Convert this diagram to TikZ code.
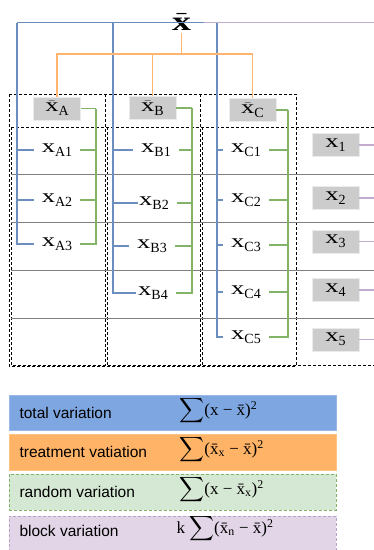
\documentclass[tikz,border=0pt]{standalone}
\usepackage{amsmath}
\usepackage{fontspec}
\setmainfont{Liberation Serif}
\setsansfont{Liberation Sans}
\usetikzlibrary{positioning}

\definecolor{blueln}{HTML}{6C8EBF}
\definecolor{orangeln}{HTML}{FFB570}
\definecolor{greenln}{HTML}{82B366}
\definecolor{purpleln}{HTML}{C3ABD0}
\definecolor{totfill}{HTML}{7EA6E0}
\definecolor{trtfill}{HTML}{FFB366}
\definecolor{rndfill}{HTML}{D5E8D4}
\definecolor{blkfill}{HTML}{E1D5E7}
\definecolor{blkdraw}{HTML}{B9A0C8}
\definecolor{meanfill}{HTML}{CCCCCC}

\newcommand{\wx}{\scalebox{1.4}[1]{x}}
\newcommand{\mx}{$\bar{\hbox{\wx}}$}
\newcommand{\lsub}[1]{\raisebox{-4pt}{\fontsize{14}{16}\selectfont #1}}

\tikzset{
	blueline/.style={draw=blueln, line width=1.5pt},
	orangeline/.style={draw=orangeln, line width=1.5pt},
	greenline/.style={draw=greenln, line width=1.5pt},
	purpleline/.style={draw=purpleln, line width=1.5pt},
	item/.style={font=\fontsize{19}{22}\selectfont, inner xsep=8pt, inner ysep=1pt},
	meanbox/.style={item, fill=meanfill, draw=black!8, minimum width=47pt, minimum height=23pt, inner sep=0pt},
	legbox/.style={minimum width=327pt, minimum height=35pt, inner sep=0pt},
	legtext/.style={font=\sffamily\fontsize{15.5}{18}\selectfont, anchor=west},
	legform/.style={font=\fontsize{17}{20}\selectfont, anchor=west},
}

\begin{document}
\begin{tikzpicture}[x=1pt,y=-1pt]
	\useasboundingbox (0,0) rectangle (374,550);

	% Draw the table
	\draw[densely dashed, thin] (9,94) rectangle (296,366);
	\draw[densely dashed, thin] (105,94) -- (105,366);
	\draw[densely dashed, thin] (200,94) -- (200,366);
	\draw[densely dashed, thin] (11,127) -- (380,127);
	\draw[densely dashed, thin] (11,127) -- (11,365) -- (380,365);
	\draw[densely dashed, thin] (107,127) -- (107,365);
	\draw[densely dashed, thin] (202,127) -- (202,365);
	\foreach \y in {174,222,270,318}
		\draw[black!50, thin] (11,\y) -- (374,\y);

	% Grand mean
	\node[font=\bfseries\boldmath\fontsize{27}{30}\selectfont, inner sep=3pt] (xbar) at (181.5,22) {\mx};
	\coordinate (ba) at (17,22.5);
	\coordinate (bb) at (113,22.5);
	\coordinate (bc) at (217,22.5);
	\coordinate (pj) at (204,22.5);
	\coordinate (pe) at (376,22.5);
	\coordinate (oj) at (181.5,54);

	% Group means
	\node[meanbox] (xbA) at (57,108.5) {\mx\lsub{A}};
	\node[meanbox] (xbB) at (152.5,108) {\mx\lsub{B}};
	\node[meanbox] (xbC) at (252.5,110) {\mx\lsub{C}};
	\coordinate (ga) at (96,108.5);
	\coordinate (gb) at (192,108);
	\coordinate (gc) at (288,110);

	% Observations
	\node[item] (xa1) at (57,150) {\wx\lsub{A1}};
	\node[item] (xa2) at (57,200) {\wx\lsub{A2}};
	\node[item] (xa3) at (57,244) {\wx\lsub{A3}};

	\node[item] (xb1) at (156,150) {\wx\lsub{B1}};
	\node[item] (xb2) at (154,203) {\wx\lsub{B2}};
	\node[item] (xb3) at (152,246) {\wx\lsub{B3}};
	\node[item] (xb4) at (153,293) {\wx\lsub{B4}};

	\node[item] (xc1) at (246,150) {\wx\lsub{C1}};
	\node[item] (xc2) at (246,200) {\wx\lsub{C2}};
	\node[item] (xc3) at (246,245) {\wx\lsub{C3}};
	\node[item] (xc4) at (246,292) {\wx\lsub{C4}};
	\node[item] (xc5) at (246,337) {\wx\lsub{C5}};

	% Block means
	\node[meanbox] (x1) at (335.5,145) {\wx\lsub{1}};
	\node[meanbox] (x2) at (335.5,198) {\wx\lsub{2}};
	\node[meanbox] (x3) at (335.5,241.5) {\wx\lsub{3}};
	\node[meanbox] (x4) at (335.5,290) {\wx\lsub{4}};
	\node[meanbox] (x5) at (335.5,339.5) {\wx\lsub{5}};
	\coordinate (edge) at (376,0);

	% Blue lines
	\draw[blueline] (ba) -- (bc);
	\draw[blueline] (ba) |- (xa1);
	\draw[blueline] (ba) |- (xa2);
	\draw[blueline] (ba) |- (xa3);
	\draw[blueline] (bb) |- (xb1);
	\draw[blueline, shorten >=-7pt] (bb) |- (xb2);
	\draw[blueline] (bb) |- (xb3);
	\draw[blueline, shorten >=-6pt] (bb) |- (xb4);
	\draw[blueline] (bc) |- (xc1);
	\draw[blueline] (bc) |- (xc2);
	\draw[blueline] (bc) |- (xc3);
	\draw[blueline] (bc) |- (xc4);
	\draw[blueline] (bc) |- (xc5);

	% Purple lines
	\draw[purpleline] (pj) -- (pe);
	\foreach \n in {1,...,5}
		\draw[purpleline] (x\n) -- (x\n -| edge);

	% Orange lines
	\draw[orangeline] (xbar) -- (oj);
	\draw[orangeline] (oj) -| (xbA);
	\draw[orangeline] (oj) -| (xbB);
	\draw[orangeline] (oj) -| (xbC);

	% Green lines
	\draw[greenline] (xbA) -- (ga);
	\draw[greenline] (xbB) -- (gb);
	\draw[greenline] (xbC) -- (gc);
	\foreach \n in {1,2,3}
		\draw[greenline] (xa\n) -| (ga);
	\foreach \n in {1,...,4}
		\draw[greenline] (xb\n) -| (gb);
	\foreach \n in {1,...,5}
		\draw[greenline] (xc\n) -| (gc);

	% Legend
	\node[legbox, fill=totfill, draw=totfill!80!white] (tot) at (172.5,412.5) {};
	\node[legbox, fill=trtfill, draw=trtfill!80!white, minimum height=36pt] (trt) at (172.5,452) {};
	\node[legbox, fill=rndfill, draw=greenln, densely dashed, minimum height=36pt] (rnd) at (172.5,492) {};
	\node[legbox, fill=blkfill, draw=blkdraw, densely dashed, minimum height=38pt] (blk) at (172.5,535) {};

	\node[legtext] (totl) at (16,412.5) {total variation};
	\node[legtext] (trtl) at (16,452) {treatment vatiation};
	\node[legtext] (rndl) at (16,492) {random variation};
	\node[legtext] (blkl) at (16,531) {block variation};

	\node[legform] (totf) at (176,411) {$\displaystyle\sum$(x − \=x)\textsuperscript{2}};
	\node[legform] (trtf) at (176,450) {$\displaystyle\sum$(\=x\textsubscript{x} − \=x)\textsuperscript{2}};
	\node[legform] (rndf) at (176,490) {$\displaystyle\sum$(x − \=x\textsubscript{x})\textsuperscript{2}};
	\node[legform] (blkf) at (173,529) {k $\displaystyle\sum$(\=x\textsubscript{n} − \=x)\textsuperscript{2}};
\end{tikzpicture}
\end{document}
